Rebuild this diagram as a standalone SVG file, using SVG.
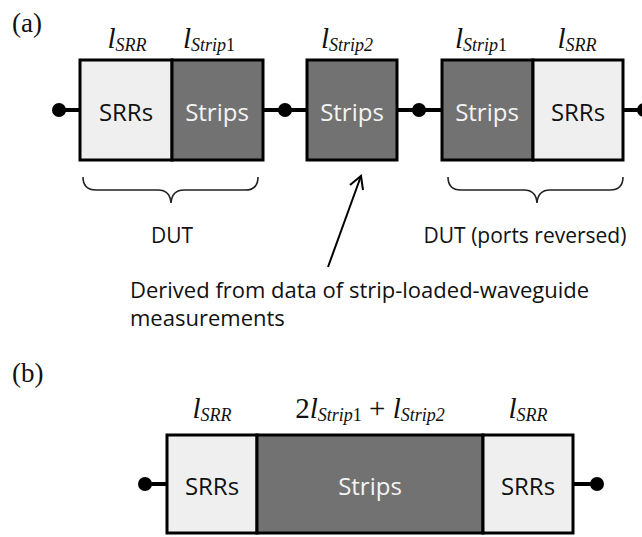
<svg xmlns="http://www.w3.org/2000/svg" width="642" height="537" viewBox="0 0 642 537">
  <style>
    .light { fill: #efefef; stroke: #000; stroke-width: 3; }
    .dark { fill: #727272; stroke: #000; stroke-width: 3; }
    .wire { stroke: #000; stroke-width: 4; fill: none; }
    .port { fill: #000; }
    .blk { font-family: "Open Sans", "Liberation Sans", sans-serif; font-size: 24px; text-anchor: middle; }
    .blk-d { fill: #111; }
    .blk-l { fill: #f4f4f4; }
    .note { font-family: "Open Sans", "Liberation Sans", sans-serif; font-size: 21px; fill: #111; }
    .note-l { font-size: 22px; }
    .sym { font-family: "Liberation Serif", "Times New Roman", serif; font-size: 29px; font-style: italic; fill: #111; text-anchor: middle; }
    .sub { font-size: 18px; }
    .up { font-style: normal; }
    .tag { font-family: "Liberation Serif", "Times New Roman", serif; font-size: 27px; fill: #111; }
    .brace { stroke: #222; stroke-width: 1.6; fill: none; }
  </style>

  <!-- panel labels -->
  <text class="tag" x="12" y="32">(a)</text>
  <text class="tag" x="12" y="382">(b)</text>

  <!-- connectors: wires, ports, braces, pointer -->
  <g id="connectors">
    <line class="wire" x1="59" y1="110" x2="80" y2="110"/>
    <line class="wire" x1="263" y1="110" x2="307" y2="110"/>
    <line class="wire" x1="397" y1="110" x2="442" y2="110"/>
    <line class="wire" x1="623" y1="110" x2="645" y2="110"/>
    <circle class="port" cx="59" cy="110" r="7"/>
    <circle class="port" cx="285" cy="110" r="7"/>
    <circle class="port" cx="419" cy="110" r="7"/>
    <circle class="port" cx="644" cy="110" r="7"/>

    <line class="wire" x1="145" y1="484" x2="167" y2="484"/>
    <line class="wire" x1="573" y1="484" x2="597" y2="484"/>
    <circle class="port" cx="145" cy="484" r="7"/>
    <circle class="port" cx="597" cy="484" r="7"/>

    <path class="brace" d="M83,177 Q83,190 96,190 L158,190 Q170,190 171,203 Q172,190 184,190 L245,190 Q258,190 258,177"/>
    <path class="brace" d="M448,177 Q448,190 461,190 L524,190 Q536,190 537,203 Q538,190 550,190 L610,190 Q623,190 623,177"/>

    <line x1="328" y1="267" x2="361" y2="176" stroke="#000" stroke-width="2"/>
    <polyline points="350,185 361,176 363,190" stroke="#000" stroke-width="2" fill="none"/>
  </g>

  <!-- (a) DUT -->
  <g id="dut">
    <rect class="light" x="80" y="60" width="92" height="100"/>
    <rect class="dark" x="172" y="60" width="91" height="100"/>
    <text class="blk blk-d" x="126" y="121">SRRs</text>
    <text class="blk blk-l" x="217" y="121">Strips</text>
    <text class="sym" x="127" y="48">l<tspan class="sub" dy="3">SRR</tspan></text>
    <text class="sym" x="209" y="48">l<tspan class="sub" dy="3">Strip<tspan class="up">1</tspan></tspan></text>
  </g>

  <!-- (a) middle strip section -->
  <g id="strip2">
    <rect class="dark" x="307" y="60" width="90" height="100"/>
    <text class="blk blk-l" x="352" y="121">Strips</text>
    <text class="sym" x="347" y="48">l<tspan class="sub" dy="3">Strip2</tspan></text>
  </g>

  <!-- (a) reversed DUT -->
  <g id="dut-reversed">
    <rect class="dark" x="442" y="60" width="91" height="100"/>
    <rect class="light" x="533" y="60" width="90" height="100"/>
    <text class="blk blk-l" x="487" y="121">Strips</text>
    <text class="blk blk-d" x="578" y="121">SRRs</text>
    <text class="sym" x="481" y="48">l<tspan class="sub" dy="3">Strip<tspan class="up">1</tspan></tspan></text>
    <text class="sym" x="577" y="48">l<tspan class="sub" dy="3">SRR</tspan></text>
  </g>

  <!-- (a) annotations -->
  <g id="notes">
    <text class="note" x="172" y="243" text-anchor="middle">DUT</text>
    <text class="note" x="525" y="243" text-anchor="middle">DUT (ports reversed)</text>
    <text class="note note-l" x="130" y="298">Derived from data of strip-loaded-waveguide</text>
    <text class="note note-l" x="130" y="326">measurements</text>
  </g>

  <!-- (b) equivalent line -->
  <g id="equivalent">
    <rect class="light" x="167" y="435" width="90" height="98"/>
    <rect class="dark" x="257" y="435" width="226" height="98"/>
    <rect class="light" x="483" y="435" width="90" height="98"/>
    <text class="blk blk-d" x="212" y="495">SRRs</text>
    <text class="blk blk-l" x="370" y="495">Strips</text>
    <text class="blk blk-d" x="528" y="495">SRRs</text>
    <text class="sym" x="212" y="418">l<tspan class="sub" dy="3">SRR</tspan></text>
    <text class="sym" x="370" y="418"><tspan class="up">2</tspan>l<tspan class="sub" dy="3">Strip<tspan class="up">1</tspan></tspan><tspan class="up" dy="-3"> + </tspan>l<tspan class="sub" dy="3">Strip2</tspan></text>
    <text class="sym" x="528" y="418">l<tspan class="sub" dy="3">SRR</tspan></text>
  </g>
</svg>
